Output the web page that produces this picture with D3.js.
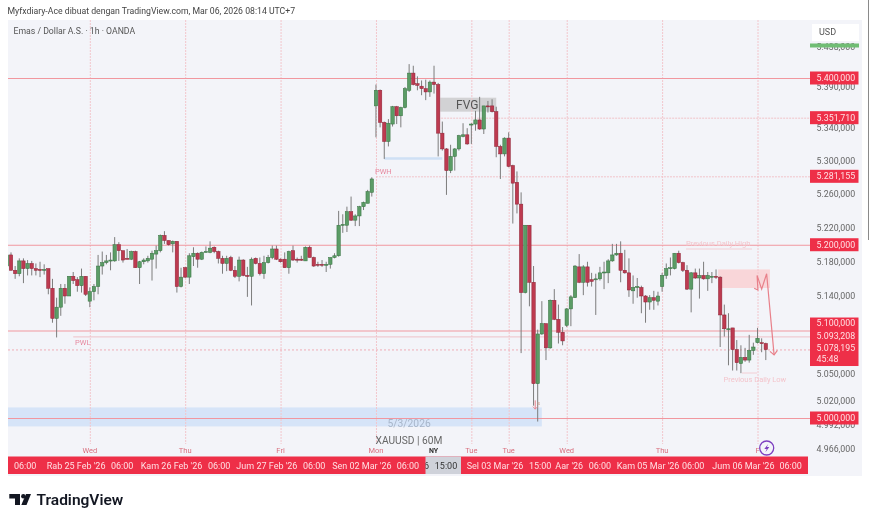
<!DOCTYPE html>
<html><head><meta charset="utf-8">
<script src="https://cdn.jsdelivr.net/npm/d3@7"></script>
<style>html,body{margin:0;padding:0;background:#fff}svg{display:block;font-family:Roboto,sans-serif;filter:blur(.3px)}</style>
</head><body><svg id="c" width="870" height="521"></svg>
<script>
// hourly candles [open, high, low, close], one array per session
const barsFeb24=[[5175,5188,5173,5188],[5188,5191,5170,5170],[5170,5175,5160,5166],[5166,5184,5163,5181],[5181,5184,5155,5172],[5172,5182,5164,5178],[5178,5181,5164,5172],[5172,5178,5164,5170],[5171,5180,5162,5170],[5170,5177,5165,5171],[5172,5172,5142,5149],[5149,5160,5109,5114],[5114,5138,5092,5127],[5127,5154,5117,5149],[5149,5154,5131,5140],[5140,5163,5140,5163],[5163,5168,5154,5158],[5159,5162,5145,5152],[5152,5172,5144,5163],[5163,5163,5140,5142]];
const barsFeb25=[[5134,5150,5127,5145],[5145,5154,5135,5151],[5151,5188,5142,5175],[5175,5192,5165,5179],[5179,5188,5177,5181],[5181,5191,5170,5182],[5181,5209,5180,5200],[5200,5203,5181,5193],[5193,5193,5179,5182],[5184,5195,5183,5183],[5183,5193,5182,5192],[5192,5193,5173,5173],[5173,5181,5154,5180],[5180,5184,5177,5182],[5181,5187,5179,5184],[5183,5193,5158,5190],[5189,5199,5172,5193],[5193,5212,5191,5211],[5211,5216,5201,5205],[5205,5205,5199,5200],[5201,5205,5191,5204],[5204,5204,5144,5151],[5151,5173,5150,5162]];
const barsFeb26=[[5173,5174,5161,5162],[5162,5190,5154,5187],[5186,5197,5175,5190],[5190,5191,5173,5183],[5183,5192,5182,5191],[5191,5198,5191,5192],[5191,5204,5190,5196],[5197,5198,5190,5192],[5192,5193,5178,5184],[5184,5187,5166,5178],[5178,5187,5169,5184],[5185,5187,5169,5170],[5170,5175,5161,5163],[5163,5186,5157,5182],[5182,5183,5163,5164],[5164,5174,5139,5163],[5163,5185,5129,5183],[5184,5185,5177,5178],[5178,5185,5164,5166],[5166,5187,5160,5179],[5179,5188,5178,5185],[5185,5199,5183,5195],[5195,5199,5182,5183]];
const barsFeb27=[[5183,5184,5179,5180],[5183,5191,5173,5173],[5173,5193,5166,5192],[5193,5199,5181,5182],[5183,5185,5179,5182],[5183,5187,5181,5182],[5181,5198,5181,5197],[5197,5199,5185,5185],[5185,5186,5174,5175],[5177,5180,5174,5176],[5177,5182,5174,5176],[5176,5180,5168,5177],[5177,5185,5172,5185],[5185,5190,5184,5187],[5187,5240,5186,5223],[5223,5236,5214,5224],[5223,5245,5215,5239],[5239,5257,5228,5229],[5229,5236,5222,5234],[5234,5246,5222,5245],[5245,5251,5241,5250],[5249,5265,5249,5263],[5262,5280,5257,5278]];
const barsMar02=[[5366,5392,5328,5385],[5385,5386,5340,5346],[5346,5347,5302,5323],[5323,5350,5317,5345],[5344,5366,5341,5365],[5365,5366,5344,5354],[5354,5365,5340,5364],[5364,5389,5363,5387],[5385,5417,5383,5406],[5406,5415,5391,5392],[5393,5402,5385,5391],[5390,5397,5379,5387],[5387,5398,5373,5383],[5383,5397,5377,5395],[5395,5415,5381,5392],[5392,5394,5305,5333],[5333,5347,5312,5314],[5314,5315,5259,5288],[5288,5319,5285,5305],[5305,5315,5288,5314],[5314,5331,5312,5330],[5329,5345,5328,5331],[5331,5339,5319,5320]];
const barsMar03=[[5343,5345,5320,5344],[5344,5360,5336,5349],[5349,5377,5337,5338],[5338,5366,5332,5366],[5366,5372,5358,5365],[5366,5374,5358,5359],[5359,5365,5304,5317],[5317,5319,5278,5308],[5308,5328,5305,5327],[5327,5334,5292,5293],[5294,5295,5225,5273],[5274,5287,5237,5248],[5248,5262,5074,5144],[5144,5223,5143,5223],[5223,5223,5128,5156],[5156,5175,5014,5039],[5039,5101,4996,5096],[5096,5134,5095,5108],[5108,5108,5066,5080],[5080,5136,5079,5135],[5135,5148,5112,5113],[5113,5130,5085,5098],[5098,5104,5083,5088]];
const barsMar04=[[5106,5126,5104,5125],[5125,5141,5105,5139],[5138,5176,5138,5175],[5174,5189,5155,5156],[5156,5176,5141,5174],[5174,5180,5151,5156],[5159,5167,5151,5157],[5159,5166,5118,5160],[5160,5174,5158,5167],[5167,5180,5148,5168],[5167,5183,5155,5181],[5181,5201,5180,5188],[5188,5201,5187,5190],[5190,5204,5156,5170],[5170,5194,5166,5167],[5167,5184,5139,5147],[5146,5164,5131,5150],[5150,5161,5138,5151],[5150,5152,5120,5140],[5140,5141,5109,5133],[5133,5141,5124,5138],[5138,5146,5124,5135],[5134,5145,5129,5140]];
const barsMar05=[[5151,5167,5145,5164],[5164,5178,5160,5172],[5172,5185,5164,5173],[5172,5190,5171,5190],[5190,5193,5178,5179],[5179,5180,5168,5170],[5170,5176,5147,5148],[5148,5168,5121,5167],[5167,5172,5160,5161],[5161,5172,5137,5164],[5164,5180,5159,5160],[5160,5168,5146,5164],[5163,5168,5155,5163],[5163,5171,5160,5162],[5162,5163,5081,5118],[5118,5130,5093,5102],[5102,5120,5060,5102],[5103,5103,5054,5078],[5078,5089,5054,5063],[5062,5083,5051,5069],[5069,5080,5064,5066],[5066,5095,5063,5077],[5077,5086,5072,5081]];
const barsMar06=[[5086,5103,5085,5091],[5086,5091,5075,5085],[5085,5086,5066,5078]];

const axisPrices=[5438,5390,5340,5300,5260,5220,5180,5140,5050,5020,4992,4966];
const tagPrices=[5400,5351.71,5281.155,5200,5000];
const tagStack=[5100,5093.208,5078.195];
const countdown="45:48";
const dayLabels=["Wed","Thu","Fri","Mon","Tue","Tue","Wed","Thu","F"];
const dayBars=[19,42,65,88,111,120,134,157,180];
const timeLabels=["06:00","Rab 25 Feb '26","06:00","Kam 26 Feb '26","06:00","Jum 27 Feb '26","06:00","Sen 02 Mar '26","06:00"];
const timeBars=[3.4,15.7,26.8,38.7,50.2,61.7,73.1,84.6,95.7];
const timeLabels2=["Sel 03 Mar '26","15:00","Aar '26","06:00","Kam 05 Mar '26","06:00","Jum 06 Mar '26","06:00"];
const timeBars2=[116.7,127.6,134.6,142,153.6,164.5,176.6,188];
const mDrawing=[[179.2,5149],[180.1,5147],[179.9,5164],[181,5148],[182.2,5166],[184,5072]];
const mArrow=[[183,5076],[184,5072],[184.8,5077]];

const C={red:"#ee2f48",line:"#f1979f",faint:"#f0b7bf",green:"#5b9c66",greenD:"#34713f",redB:"#bd3a50",redD:"#8d2235",wick:"#7c7c7c",blue:"#d6e4f8",panel:"#f3f4f9",label:"#d9707f"};
const bars=[].concat(barsFeb24,barsFeb25,barsFeb26,barsFeb27,barsMar02,barsMar03,barsMar04,barsMar05,barsMar06);

const x=d3.scaleLinear().domain([0,182]).range([11,765.8]);
const y=d3.scaleLog().domain([5000,5400]).range([418,78]);
const L={l:8,r:810,t:20,b:456,panelR:862,panelB:476};
const svg=d3.select("#c");
const fmt=d3.formatLocale({decimal:",",thousands:".",grouping:[3],currency:["",""]}).format(",.3f");

svg.append("clipPath").attr("id","pl").append("rect").attr("x",L.l).attr("y",L.t).attr("width",L.r-L.l).attr("height",L.b-L.t);

svg.append("rect").attr("x",L.l).attr("y",L.t).attr("width",L.panelR-L.l).attr("height",L.panelB-L.t).attr("fill",C.panel);
svg.append("line").attr("x1",868.5).attr("x2",868.5).attr("y1",0).attr("y2",240).attr("stroke","#8a8a8a").attr("stroke-width",1);

const plot=svg.append("g").attr("clip-path","url(#pl)");

// zones
plot.append("rect").attr("x",L.l).attr("width",x(128)-L.l).attr("y",y(5012)).attr("height",y(4990.5)-y(5012)).attr("fill",C.blue);
plot.append("rect").attr("x",x(103.5)).attr("width",x(117)-x(103.5)).attr("y",y(5376)).attr("height",y(5359)-y(5376)).attr("fill","#d2d2d4");
plot.append("rect").attr("x",x(90)).attr("width",x(104)-x(90)).attr("y",y(5304)).attr("height",y(5301)-y(5304)).attr("fill","#cfe0f5");
plot.append("rect").attr("x",x(170.5)).attr("width",x(183)-x(170.5)).attr("y",y(5171)).attr("height",y(5149.3)-y(5171)).attr("fill","#f9d6d9");

// vertical day separators
plot.selectAll("line.v").data(dayBars).join("line").attr("class","v")
 .attr("x1",d=>x(d)+.5).attr("x2",d=>x(d)+.5).attr("y1",L.t).attr("y2",L.b-12)
 .attr("stroke","#f2c6cc").attr("stroke-width",1).attr("stroke-dasharray","2 1");

// horizontal levels
const hl=(p,x0,o)=>plot.append("line").attr("x1",x0).attr("x2",L.r).attr("y1",y(p)+.5).attr("y2",y(p)+.5)
 .attr("stroke",o.c).attr("stroke-width",o.w).attr("stroke-dasharray",o.d||null);
hl(5400,L.l,{c:C.line,w:1.2});
hl(5200,L.l,{c:C.line,w:1.2});
hl(5100,L.l,{c:C.line,w:1.2});
hl(5000,L.l,{c:C.line,w:1.1});
hl(5351.71,x(103),{c:"#f1c3c9",w:1,d:"2 1"});
hl(5281.155,x(88),{c:"#f1c3c9",w:1,d:"2 1"});
hl(5093.208,x(15),{c:"#efc0c7",w:1});
hl(5078.195,L.l,{c:"#efaeb7",w:1,d:"2 2"});

// candles
const g=plot.selectAll("g.b").data(bars).join("g").attr("class","b")
 .attr("transform",(d,i)=>`translate(${x(i-1)},0)`);
g.append("line").attr("y1",d=>y(d[1])).attr("y2",d=>y(d[2])).attr("stroke",C.wick).attr("stroke-width",1);
g.append("rect").attr("x",-1.7).attr("width",3.4)
 .attr("y",d=>y(Math.max(d[0],d[3])))
 .attr("height",d=>Math.max(1,Math.abs(y(d[0])-y(d[3]))))
 .attr("fill",d=>d[3]>=d[0]?C.green:C.redB)
 .attr("stroke",d=>d[3]>=d[0]?C.greenD:C.redD).attr("stroke-width",.5);

// annotations
const ln=d3.line().x(d=>x(d[0])).y(d=>y(d[1]));
svg.append("path").attr("d",ln(mDrawing)).attr("fill","none").attr("stroke","#e8808a").attr("stroke-width",1.2);
svg.append("path").attr("d",ln(mArrow)).attr("fill","none").attr("stroke","#e8808a").attr("stroke-width",1.2);
svg.append("path").attr("d",ln([[126.4,5020],[126.4,5010]])).attr("stroke","#e8808a").attr("stroke-width",1);
svg.append("path").attr("d",ln([[125.8,5013],[126.4,5010],[127,5013]])).attr("fill","none").attr("stroke","#e8808a").attr("stroke-width",.8);
const txt=(s,px,py,o={})=>svg.append("text").attr("x",px).attr("y",py).text(s)
 .attr("font-size",o.s||9).attr("fill",o.c||"#444").attr("text-anchor",o.a||"start").attr("font-weight",o.w||400)
 .attr("dominant-baseline","central").attr("letter-spacing",o.ls||null);
txt("FVG",x(110),104.5,{s:12,c:"#555",a:"middle"});
txt("PWH",x(88)-1,171,{s:7.5,c:"#e78aa0"});
txt("PWL",75,342.5,{s:7.5,c:"#e78aa0"});
txt("Previous Daily High",686,243.5,{s:7.5,c:"#f3c5cc"});
svg.append("line").attr("x1",686).attr("x2",752).attr("y1",249).attr("y2",249).attr("stroke","#f3c5cc").attr("stroke-width",.8);
txt("Previous Daily Low",723.5,379.5,{s:7.5,c:"#f3c5cc"});
svg.append("line").attr("x1",742).attr("x2",757).attr("y1",373).attr("y2",373).attr("stroke","#f3c5cc").attr("stroke-width",.8);
txt("5/3/2026",x(96),423,{s:10.3,c:"#a7b5c9",a:"middle"});
txt("s",537,402.5,{s:6,c:"#c98"});
txt("XAUUSD | 60M",375.5,440.5,{s:10.2,c:"#666"});

// header
txt("Myfxdiary-Ace dibuat dengan TradingView.com, Mar 06, 2026 08:14 UTC+7",7.5,11,{s:8.7,c:"#444"});
txt("Emas / Dollar A.S. · 1h · OANDA",13.5,31,{s:8.7,c:"#555"});

// right axis
const yAxis=d3.axisRight(y).tickValues(axisPrices).tickSize(0).tickPadding(0).tickFormat(fmt);
const ag=svg.append("g").attr("transform","translate(816.5,0)").call(yAxis);
ag.select(".domain").remove();
ag.selectAll("text").attr("fill","#666").attr("font-size",8.8).attr("font-family","Roboto,sans-serif").attr("dy",".33em");

// USD box + green strip
svg.append("rect").attr("x",812).attr("y",24).attr("width",47).attr("height",17).attr("fill","#fff");
txt("USD",819,32,{s:9,c:"#555"});
svg.append("rect").attr("x",810).attr("y",43.5).attr("width",49).attr("height",4).attr("fill","#70bd74");

// price tags
const tw=48.5,th=13;
tagPrices.forEach(p=>{
 svg.append("rect").attr("x",810).attr("y",y(p)-th/2).attr("width",tw).attr("height",th).attr("fill",C.red);
 txt(fmt(p),816.5,y(p),{s:8.8,c:"#ffdfe3"});
});
svg.append("rect").attr("x",810).attr("y",y(tagStack[0])-th/2-6.5).attr("width",tw).attr("height",48.5).attr("fill",C.red);
tagStack.forEach((p,i)=>txt(fmt(p),816.5,323+i*12.7,{s:8.8,c:"#ffdfe3"}));
txt(countdown,816.5,358.5,{s:8.8,c:"#ffdfe3"});

// day labels
dayLabels.forEach((s,i)=>txt(s,x(dayBars[i]),450.5,{s:7.5,c:C.label,a:"middle"}));
txt("NY",433.5,450.5,{s:7,c:"#333",a:"middle",w:700});

// lightning badge
svg.append("circle").attr("cx",766.7).attr("cy",448).attr("r",7).attr("fill",C.panel).attr("stroke","#7d3fc0").attr("stroke-width",1.3);
svg.append("path").attr("d","M768.2 444L764.3 449H766.7L765.4 452.2L769.3 447H766.9Z").attr("fill","#7d3fc0");

// time axis
svg.append("rect").attr("x",8).attr("y",456.5).attr("width",L.r-8-2).attr("height",17.5).attr("fill",C.red);
svg.append("rect").attr("x",425.5).attr("y",456.5).attr("width",35.5).attr("height",17.5).attr("fill","#cfd2da");
svg.append("clipPath").attr("id","gc").append("rect").attr("x",425.5).attr("y",456).attr("width",35.5).attr("height",18);
svg.append("text").attr("clip-path","url(#gc)").attr("x",424).attr("y",465.5).attr("dominant-baseline","central").attr("font-size",9).attr("fill","#333").text("6");
txt("15:00",446,465.5,{s:9,c:"#333",a:"middle"});
timeLabels.forEach((s,i)=>txt(s,x(timeBars[i]),465.5,{s:9,c:"#ffdfe3",a:"middle"}));
timeLabels2.forEach((s,i)=>txt(s,x(timeBars2[i]),465.5,{s:9,c:"#ffdfe3",a:"middle"}));

// footer logo
svg.append("path").attr("fill","#131722").attr("d","M9.3 494H20V505H15V498.6H9.3Z");
svg.append("circle").attr("cx",23.3).attr("cy",496.2).attr("r",2.2).attr("fill","#131722");
svg.append("path").attr("fill","#131722").attr("d","M26 494H31L26.5 505H21.3Z");
txt("TradingView",36.5,499.5,{s:15.5,c:"#131722",w:600});
</script></body></html>
